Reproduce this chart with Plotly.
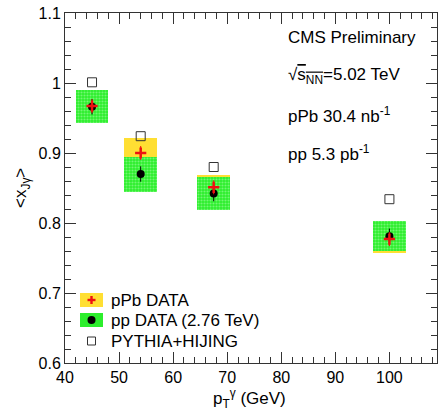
import plotly.graph_objects as go

# <x_Jgamma> vs photon pT
pt = [45.0, 54.0, 67.5, 100.0]

ppb_xj = [0.967, 0.900, 0.851, 0.777]
ppb_stat = [0.010, 0.010, 0.010, 0.010]
ppb_sys = [0.020, 0.022, 0.017, 0.020]

pp_xj = [0.966, 0.870, 0.842, 0.781]
pp_stat = [0.011, 0.011, 0.011, 0.011]
pp_sys = [0.0235, 0.025, 0.024, 0.0215]

mc_xj = [1.001, 0.924, 0.880, 0.834]

box_width = 6.0
yellow = "#ffdf33"
green = "#2cee2c"
red = "#ee1111"
FONT = "Liberation Sans, Arial, Helvetica, sans-serif"

W, H = 439, 415
L, R, T, B = 65, 2, 13, 52
PW, PH = W - L - R, H - T - B


def px(x):
    return (x - L) / PW


def py(y):
    return (H - B - y) / PH


fig = go.Figure()

# systematic boxes
fig.add_trace(go.Bar(
    x=pt, y=[2 * s for s in ppb_sys], base=[v - s for v, s in zip(ppb_xj, ppb_sys)],
    width=box_width, marker=dict(color=yellow, line=dict(width=0)),
    showlegend=False, hoverinfo="skip"))
fig.add_trace(go.Bar(
    x=pt, y=[2 * s for s in pp_sys], base=[v - s for v, s in zip(pp_xj, pp_sys)],
    width=box_width,
    marker=dict(color=green, line=dict(width=0),
                pattern=dict(shape=".", fgcolor="#b8ffb8", size=3, solidity=0.4,
                             fillmode="overlay")),
    showlegend=False, hoverinfo="skip"))

# pp points
fig.add_trace(go.Scatter(
    x=pt, y=pp_xj, mode="markers",
    marker=dict(symbol="circle", size=8, color="black"),
    error_y=dict(type="data", array=pp_stat, color="black", thickness=1, width=0),
    showlegend=False))
# pPb points
fig.add_trace(go.Scatter(
    x=pt, y=ppb_xj, mode="markers",
    marker=dict(symbol="cross-thin", size=8, color=red, line=dict(width=2.5, color=red)),
    error_y=dict(type="data", array=ppb_stat, color=red, thickness=1, width=0),
    showlegend=False))
# PYTHIA+HIJING
fig.add_trace(go.Scatter(
    x=pt, y=mc_xj, mode="markers",
    marker=dict(symbol="square-open", size=9, color="#333333", line=dict(width=1)),
    showlegend=False))

shapes = []
annotations = []


def rect(x0, y0, x1, y1, color):
    shapes.append(dict(type="rect", xref="paper", yref="paper",
                       x0=px(x0), x1=px(x1), y0=py(y1), y1=py(y0),
                       fillcolor=color, line=dict(width=0), layer="above"))


# legend glyphs
rect(80, 293, 103, 307, yellow)
cx, cy = 91.5, 300
rect(cx - 4, cy - 1.2, cx + 4, cy + 1.2, red)
rect(cx - 1.2, cy - 4, cx + 1.2, cy + 4, red)
rect(80, 313, 103, 327, green)
shapes.append(dict(type="circle", xref="paper", yref="paper",
                   x0=px(cx - 4), x1=px(cx + 4), y0=py(320 + 4), y1=py(320 - 4),
                   fillcolor="black", line=dict(width=0), layer="above"))
shapes.append(dict(type="rect", xref="paper", yref="paper",
                   x0=px(cx - 4), x1=px(cx + 4), y0=py(341 + 4), y1=py(341 - 4),
                   fillcolor="rgba(0,0,0,0)", line=dict(width=1, color="#333333"),
                   layer="above"))

for text, yy in [("pPb DATA", 300), ("pp DATA (2.76 TeV)", 320), ("PYTHIA+HIJING", 341)]:
    annotations.append(dict(text=text, xref="paper", yref="paper", x=px(109), y=py(yy),
                            xanchor="left", yanchor="middle", showarrow=False,
                            font=dict(family=FONT, size=17, color="black")))

labels = [
    ("CMS Preliminary", 38),
    ("√<span style='text-decoration:overline'>s<sub>NN</sub></span>=5.02 TeV", 76),
    ("pPb 30.4 nb<sup>-1</sup>", 115),
    ("pp 5.3 pb<sup>-1</sup>", 153),
]
for text, yy in labels:
    annotations.append(dict(text=text, xref="paper", yref="paper", x=px(286), y=py(yy),
                            xanchor="left", yanchor="middle", showarrow=False,
                            font=dict(family=FONT, size=17, color="black")))

# axis titles
annotations.append(dict(text="p<sub>T</sub><sup>γ</sup> (GeV)", xref="paper", yref="paper",
                        x=px(288), y=py(398), xanchor="right", yanchor="middle",
                        showarrow=False, font=dict(family=FONT, size=17, color="black")))
annotations.append(dict(text="&lt;x<sub>Jγ</sub>&gt;", xref="paper", yref="paper",
                        x=px(22), y=py(188), xanchor="center", yanchor="middle",
                        textangle=-90, showarrow=False,
                        font=dict(family=FONT, size=17, color="black")))

axis_common = dict(
    showgrid=False, zeroline=False, showline=True, linecolor="#333333", linewidth=1,
    mirror="ticks", ticks="inside", ticklen=11, tickcolor="#333333", tickwidth=1,
    tickfont=dict(family=FONT, size=16, color="black"),
)

fig.update_layout(
    width=W, height=H, margin=dict(l=L, r=R, t=T, b=B),
    paper_bgcolor="white", plot_bgcolor="white",
    barmode="overlay", bargap=0,
    shapes=shapes, annotations=annotations,
    xaxis=dict(range=[40, 108.8], tickvals=[40, 50, 60, 70, 80, 90, 100],
               ticktext=["40", "50", "60", "70", "80", "90", "100"],
               minor=dict(dtick=2, ticks="inside", ticklen=6, tickcolor="#333333",
                          showgrid=False),
               **axis_common),
    yaxis=dict(range=[0.6, 1.1], tickvals=[0.6, 0.7, 0.8, 0.9, 1.0, 1.1],
               ticktext=["0.6", "0.7", "0.8", "0.9", "1", "1.1"],
               minor=dict(dtick=0.02, ticks="inside", ticklen=6, tickcolor="#333333",
                          showgrid=False),
               **axis_common),
)

fig.write_html("out.html")
